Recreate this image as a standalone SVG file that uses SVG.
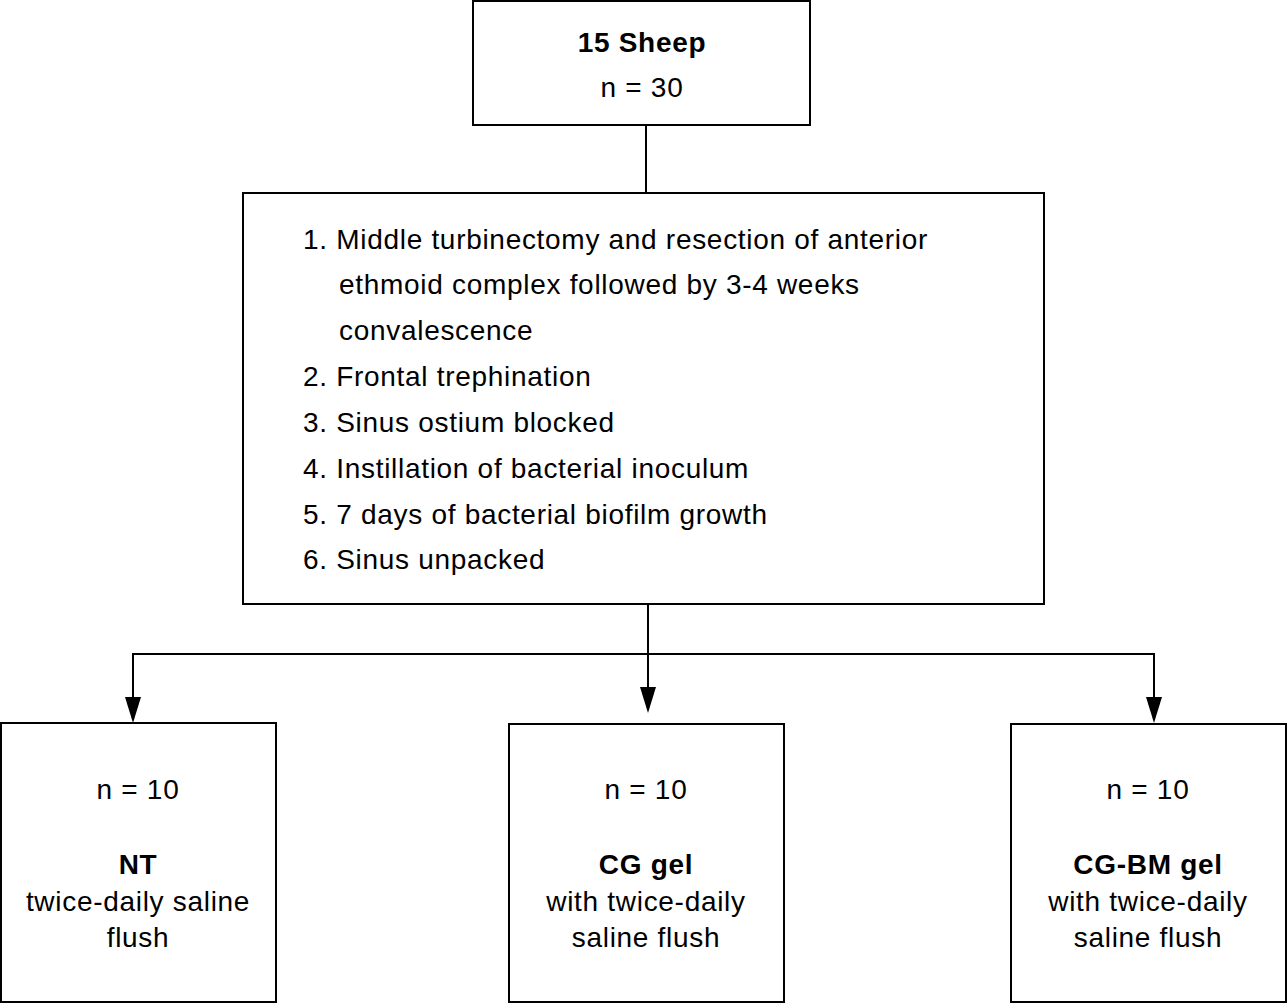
<svg xmlns="http://www.w3.org/2000/svg" width="1287" height="1005" viewBox="0 0 1287 1005">
<style>
.box{fill:#fff;stroke:#000;stroke-width:2}
.t{font-family:"Liberation Sans",Arial,sans-serif;font-size:28px;letter-spacing:0.7px;fill:#000}
.c{text-anchor:middle}
.b{font-weight:bold}
.ln{fill:none;stroke:#000;stroke-width:2}
.ah{fill:#000}
</style>
<rect width="1287" height="1005" fill="#fff"/>
<g id="connectors">
<line class="ln" x1="646" y1="125" x2="646" y2="193"/>
<line class="ln" x1="648" y1="604" x2="648" y2="690"/>
<path class="ah" d="M640,687 L656,687 L648,713 Z"/>
<polyline class="ln" points="133,700 133,654 1154,654 1154,700"/>
<path class="ah" d="M125,697 L141,697 L133,723 Z"/>
<path class="ah" d="M1146,697 L1162,697 L1154,723 Z"/>
</g>
<g id="sheep">
<rect class="box" x="473" y="1" width="337" height="124"/>
<text class="t c b" x="642" y="52">15 Sheep</text>
<text class="t c" x="642" y="97">n = 30</text>
</g>
<g id="procedure">
<rect class="box" x="243" y="193" width="801" height="411"/>
<text class="t" x="303" y="249">1. Middle turbinectomy and resection of anterior</text>
<text class="t" x="339" y="294">ethmoid complex followed by 3-4 weeks</text>
<text class="t" x="339" y="340">convalescence</text>
<text class="t" x="303" y="386">2. Frontal trephination</text>
<text class="t" x="303" y="432">3. Sinus ostium blocked</text>
<text class="t" x="303" y="478">4. Instillation of bacterial inoculum</text>
<text class="t" x="303" y="524">5. 7 days of bacterial biofilm growth</text>
<text class="t" x="303" y="569">6. Sinus unpacked</text>
</g>
<g id="nt">
<rect class="box" x="1" y="723" width="275" height="279"/>
<text class="t c" x="138" y="799">n = 10</text>
<text class="t c b" x="138" y="874">NT</text>
<text class="t c" x="138" y="911">twice-daily saline</text>
<text class="t c" x="138" y="947">flush</text>
</g>
<g id="cg">
<rect class="box" x="509" y="724" width="275" height="278"/>
<text class="t c" x="646" y="799">n = 10</text>
<text class="t c b" x="646" y="874">CG gel</text>
<text class="t c" x="646" y="911">with twice-daily</text>
<text class="t c" x="646" y="947">saline flush</text>
</g>
<g id="cgbm">
<rect class="box" x="1011" y="724" width="275" height="278"/>
<text class="t c" x="1148" y="799">n = 10</text>
<text class="t c b" x="1148" y="874">CG-BM gel</text>
<text class="t c" x="1148" y="911">with twice-daily</text>
<text class="t c" x="1148" y="947">saline flush</text>
</g>
</svg>
